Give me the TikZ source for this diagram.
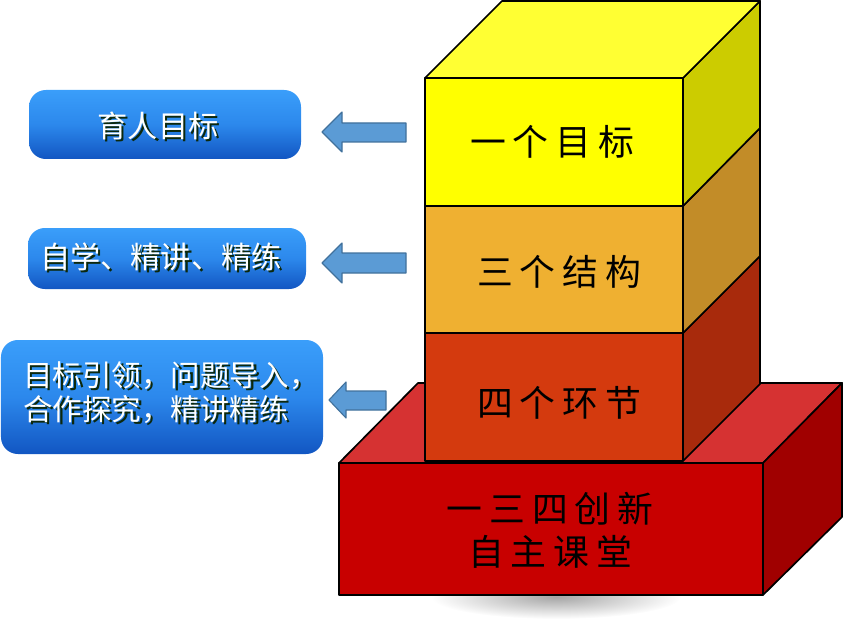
\documentclass[tikz,border=0pt]{standalone}
\usepackage{fontspec}
\setmainfont{Noto Sans CJK SC}
\newfontfamily\towerfont[LetterSpace=19]{Noto Sans CJK SC}
\definecolor{yellowfront}{RGB}{255,255,0}
\definecolor{yellowtop}{RGB}{255,255,51}
\definecolor{yellowside}{RGB}{204,204,0}
\definecolor{orangefront}{RGB}{239,176,49}
\definecolor{orangeside}{RGB}{194,140,40}
\definecolor{rustfront}{RGB}{212,58,14}
\definecolor{rustside}{RGB}{168,42,12}
\definecolor{basefront}{RGB}{200,0,0}
\definecolor{basetop}{RGB}{214,50,50}
\definecolor{baseside}{RGB}{160,0,0}
\definecolor{boxtop}{RGB}{58,158,250}
\definecolor{boxmid}{RGB}{44,136,236}
\definecolor{boxbottom}{RGB}{18,86,194}
\definecolor{arrowblue}{RGB}{91,155,213}
\definecolor{arrowedge}{RGB}{65,113,156}
\definecolor{textshadow}{RGB}{12,40,12}
\newcommand{\shadowed}[1]{\makebox[0pt][l]{\kern1.6pt\raisebox{-1.6pt}{\color{textshadow}#1}}#1}

\begin{document}
\begin{tikzpicture}[x=0.025cm, y=-0.025cm, line join=round,
  outline/.style={draw=black, line width=1.2pt},
  bluebox/.style={rounded corners=12pt, top color=boxtop, bottom color=boxbottom, middle color=boxmid},
  blockarrow/.style={fill=arrowblue, draw=arrowedge, line width=0.8pt},
  towertext/.style={font=\towerfont\fontsize{25.5}{30.6}\selectfont, align=center},
  boxtext/.style={text=white, font=\fontsize{21.5}{24.2}\selectfont}]
  \useasboundingbox (0,0) rectangle (844,624);
  \shade[inner color=black!35, outer color=white] (556,597) ellipse (125 and 22);
  \draw[outline, fill=basetop] (339,463) -- (418,383) -- (842,383) -- (763,463) -- cycle;
  \draw[outline, fill=baseside] (763,463) -- (842,383) -- (842,517) -- (763,595) -- cycle;
  \draw[outline, fill=basefront] (339,463) rectangle (763,595);
  \draw[outline, fill=rustside] (683,333) -- (760,256) -- (760,384) -- (683,461) -- cycle;
  \draw[outline, fill=orangeside] (683,206) -- (760,128) -- (760,256) -- (683,333) -- cycle;
  \draw[outline, fill=yellowside] (683,78) -- (760,1) -- (760,128) -- (683,206) -- cycle;
  \draw[outline, fill=yellowtop] (425,78) -- (502,1) -- (760,1) -- (683,78) -- cycle;
  \draw[outline, fill=rustfront] (425,333) rectangle (683,461);
  \draw[outline, fill=orangefront] (425,206) rectangle (683,333);
  \draw[outline, fill=yellowfront] (425,78) rectangle (683,206);
  \node[towertext] (goal) at (552,142) {一个目标};
  \node[towertext] (structure) at (559,272) {三个结构};
  \node[towertext] (steps) at (559,403) {四个环节};
  \node[towertext] (classroom) at (550,530) {一三四创新\\自主课堂};
  \path[bluebox] (29,90) rectangle (301,159);
  \path[bluebox] (28,228) rectangle (306,289);
  \path[bluebox] (1,340) rectangle (323,454);
  \node[boxtext] (aim) at (158,127) {\shadowed{育人目标}};
  \node[boxtext] (study) at (161,258) {\shadowed{自学、精讲、精练}};
  \node[boxtext, font=\fontsize{21}{24.2}\selectfont, anchor=west, align=left, inner sep=0pt] (method) at (23,394)
    {\shadowed{目标引领，问题导入，}\\\shadowed{合作探究，精讲精练}};
  \draw[blockarrow] (406,123) -- (342,123) -- (342,112) -- (322,132) -- (342,152) -- (342,142) -- (406,142) -- cycle;
  \draw[blockarrow] (406,253) -- (342,253) -- (342,243) -- (322,263) -- (342,283) -- (342,273) -- (406,273) -- cycle;
  \draw[blockarrow] (386,391) -- (346,391) -- (346,382) -- (329,400) -- (346,418) -- (346,410) -- (386,410) -- cycle;
\end{tikzpicture}
\end{document}
